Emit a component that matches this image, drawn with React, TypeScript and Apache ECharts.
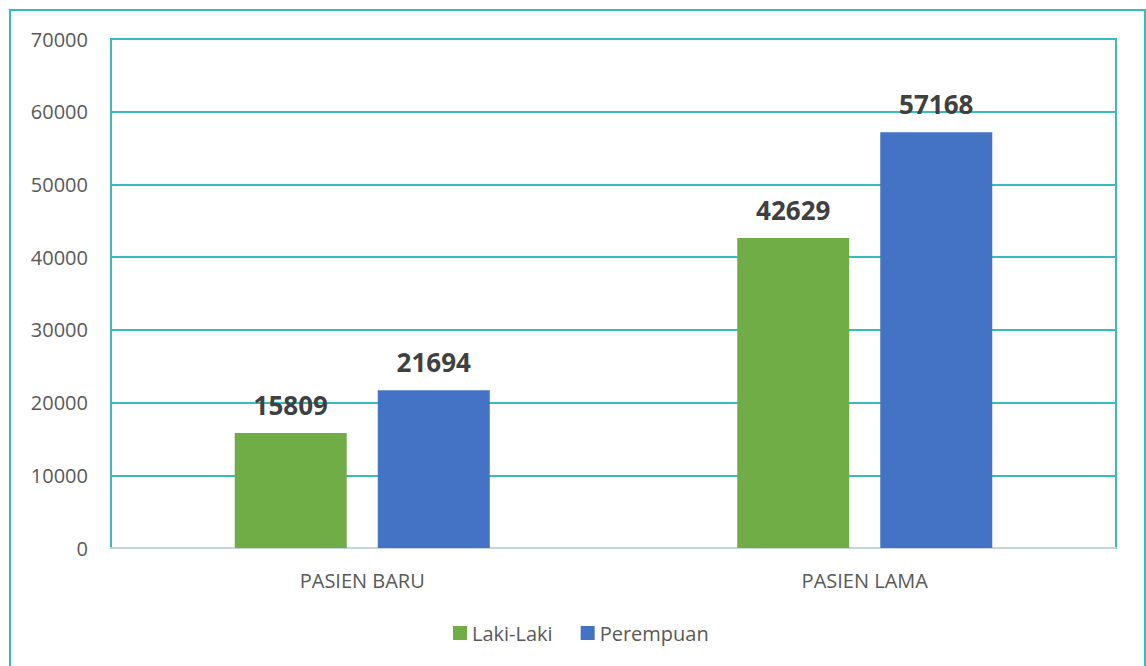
import React, { useEffect, useRef } from "react";
import * as echarts from "echarts";

const categories = ["PASIEN BARU", "PASIEN LAMA"];
const lakiLaki = [15809, 42629];
const perempuan = [21694, 57168];
const seriesNames = ["Laki-Laki", "Perempuan"];

const TEAL = "#36BBBE";
const FONT = "'Open Sans', sans-serif";

export default function App() {
  const ref = useRef<HTMLDivElement>(null);
  useEffect(() => {
    if (!ref.current) return;
    const chart = echarts.init(ref.current, null, { renderer: "svg" });
    const barLabel = {
      show: true,
      position: "top",
      distance: 15,
      fontFamily: FONT,
      fontSize: 26,
      fontWeight: "bold",
      color: "#404040",
    };
    chart.setOption({
      animation: false,
      backgroundColor: "#ffffff",
      graphic: [
        {
          type: "rect",
          shape: { x: 10, y: 10, width: 1135, height: 700 },
          style: { fill: "none", stroke: TEAL, lineWidth: 2 },
          silent: true,
        },
      ],
      grid: {
        left: 111,
        right: 30,
        top: 39,
        bottom: 118,
        show: true,
        borderColor: TEAL,
        borderWidth: 2,
        backgroundColor: "transparent",
      },
      legend: {
        data: seriesNames,
        left: 453,
        top: 623,
        icon: "rect",
        itemWidth: 14,
        itemHeight: 14,
        itemGap: 28,
        padding: 0,
        textStyle: { fontFamily: FONT, fontSize: 20, color: "#595959" },
      },
      xAxis: {
        type: "category",
        data: categories,
        axisTick: { show: false },
        axisLine: { show: true, lineStyle: { color: "#C4D8D8", width: 2 } },
        axisLabel: {
          fontFamily: FONT,
          fontSize: 20,
          color: "#595959",
          margin: 22,
        },
      },
      yAxis: {
        type: "value",
        min: 0,
        max: 70000,
        interval: 10000,
        axisLine: { show: true, lineStyle: { color: TEAL, width: 2 } },
        axisTick: { show: false },
        splitLine: { show: true, lineStyle: { color: TEAL, width: 2 } },
        axisLabel: {
          fontFamily: FONT,
          fontSize: 20,
          color: "#595959",
          margin: 23,
          formatter: (v: number) => String(v),
        },
      },
      series: [
        {
          name: seriesNames[0],
          type: "bar",
          data: lakiLaki,
          barWidth: 112,
          barGap: "27.7%",
          itemStyle: { color: "#70AD47" },
          label: barLabel,
        },
        {
          name: seriesNames[1],
          type: "bar",
          data: perempuan,
          barWidth: 112,
          itemStyle: { color: "#4472C4" },
          label: barLabel,
        },
      ],
    });
    return () => chart.dispose();
  }, []);
  return (
    <div
      ref={ref}
      style={{ position: "fixed", left: 0, top: 0, width: 1146, height: 666 }}
    />
  );
}
